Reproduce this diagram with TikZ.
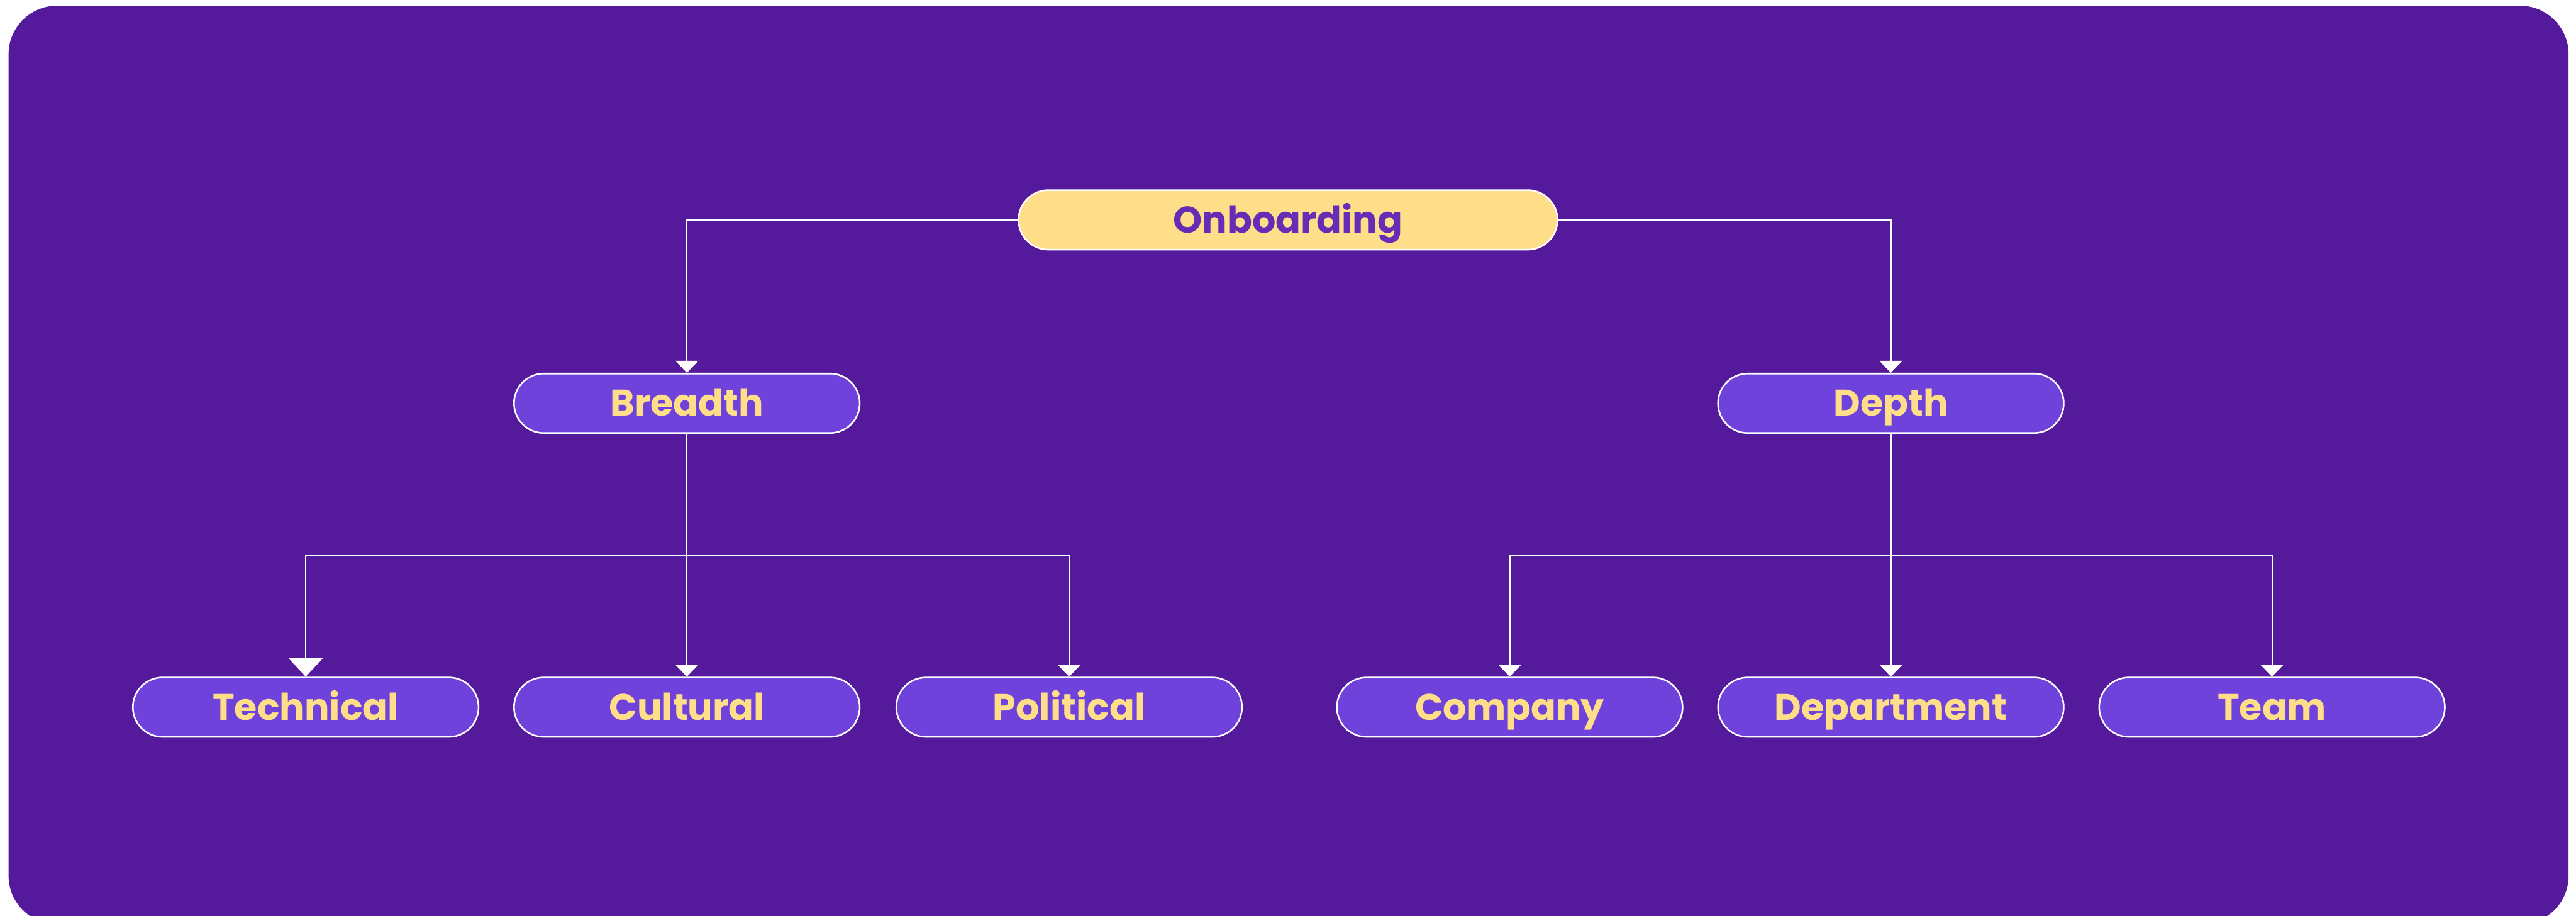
\documentclass[tikz,border=0pt]{standalone}
\usepackage{fontspec}
\setmainfont{Poppins}
\usepackage{xcolor}
\usetikzlibrary{arrows.meta}

\definecolor{bgpurple}{HTML}{55199B}
\definecolor{boxpurple}{HTML}{6F42DC}
\definecolor{boxyellow}{HTML}{FFDE8A}
\definecolor{textpurple}{HTML}{672CB5}

\tikzset{
	item/.style={draw=white, line width=0.8pt, fill=boxpurple, text=boxyellow,
		rounded corners=0.52cm, minimum width=6.05cm, minimum height=1.04cm,
		inner sep=0pt, text height=12.8pt, text depth=0pt,
		font=\fontsize{18.4}{22}\selectfont\bfseries},
	root/.style={item, fill=boxyellow, text=textpurple, minimum width=9.43cm},
	link/.style={draw=white, line width=0.65pt, -{Triangle[width=0.4cm,length=0.21cm]}},
	biglink/.style={link, -{Triangle[width=0.61cm,length=0.33cm]}},
}

\begin{document}
\begin{tikzpicture}
			\useasboundingbox (0,0) rectangle (45.08,-16.03);
			\fill[bgpurple, rounded corners=0.85cm] (0.15,-0.10) rectangle (44.95,-16.18);
			
			\node[root] (onb) at (22.54,-3.85) {Onboarding};
			
			\node[item] (brd) at (12.02,-7.06) {Breadth};
			\node[item] (dep) at (33.09,-7.06) {Depth};
			
			\node[item] (tec) at (5.35,-12.38) {Technical};
			\node[item] (cul) at (12.02,-12.38) {Cultural};
			\node[item] (pol) at (18.71,-12.38) {Political};
			\node[item] (com) at (26.42,-12.38) {Company};
			\node[item] (dpt) at (33.09,-12.38) {Department};
			\node[item] (tea) at (39.76,-12.38) {Team};
			
			\coordinate (bj) at (12.02,-9.72);
			\coordinate (dj) at (33.09,-9.72);
			
			\draw[link] (onb.west) -| (brd.north);
			\draw[link] (onb.east) -| (dep.north);
			
			\draw[draw=white, line width=0.65pt] (brd.south) -- (bj);
			\draw[biglink] (bj) -| (tec.north);
			\draw[link] (bj) -- (cul.north);
			\draw[link] (bj) -| (pol.north);
			
			\draw[draw=white, line width=0.65pt] (dep.south) -- (dj);
			\draw[link] (dj) -| (com.north);
			\draw[link] (dj) -- (dpt.north);
			\draw[link] (dj) -| (tea.north);
\end{tikzpicture}
\end{document}
